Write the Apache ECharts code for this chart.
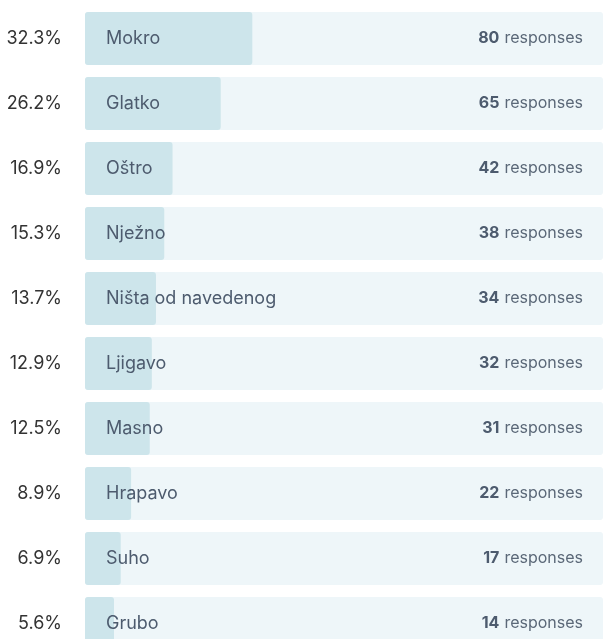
<!DOCTYPE html>
<html lang="hr">
<head>
<meta charset="utf-8">
<script src="https://cdn.jsdelivr.net/npm/echarts@6/dist/echarts.min.js"></script>
<style>
  html, body { margin: 0; padding: 0; background: #fff; }
  #chart { width: 604px; height: 639px; }
</style>
</head>
<body>
<div id="chart"></div>
<script type="text/javascript">
    var categories = ['Mokro', 'Glatko', 'Oštro', 'Nježno', 'Ništa od navedenog', 'Ljigavo', 'Masno', 'Hrapavo', 'Suho', 'Grubo'];
    var percents = [32.3, 26.2, 16.9, 15.3, 13.7, 12.9, 12.5, 8.9, 6.9, 5.6];
    var responses = [80, 65, 42, 38, 34, 32, 31, 22, 17, 14];
    var fullTrack = [100, 100, 100, 100, 100, 100, 100, 100, 100, 100];

    var font = 'Inter, "Noto Sans", sans-serif';

    var myChart = echarts.init(document.getElementById('chart'));

    var option = {
        animation: false,
        grid: {
            left: 85,
            right: 1,
            top: 6,
            height: 650,
            outerBoundsMode: 'none'
        },
        xAxis: {
            type: 'value',
            min: 0,
            max: 100,
            show: false
        },
        yAxis: {
            type: 'category',
            inverse: true,
            data: categories,
            axisLine: { show: false },
            axisTick: { show: false },
            axisLabel: {
                margin: 23,
                fontSize: 18,
                fontFamily: font,
                color: '#333',
                formatter: function (val, idx) {
                    return percents[idx].toFixed(1) + '%';
                }
            }
        },
        series: [{
            name: 'track',
            type: 'bar',
            barWidth: 53,
            barGap: '-100%',
            silent: true,
            data: fullTrack,
            itemStyle: { color: '#eef6f9', borderRadius: 3 },
            label: {
                show: true,
                position: 'insideRight',
                distance: 20,
                formatter: function (p) {
                    return '{n|' + responses[p.dataIndex] + '}{r|responses}';
                },
                rich: {
                    n: { fontSize: 16, fontWeight: 'bold', color: '#4d5b6e', fontFamily: font, padding: [0, 5, 0, 0] },
                    r: { fontSize: 16, color: '#5b6878', fontFamily: font }
                }
            }
        }, {
            name: 'percent',
            type: 'bar',
            barWidth: 53,
            data: percents,
            itemStyle: { color: '#cde5eb', borderRadius: 3 },
            label: {
                show: true,
                position: 'insideLeft',
                distance: 21,
                fontSize: 18,
                fontFamily: font,
                color: '#4d5b6e',
                formatter: function (p) {
                    return p.name;
                }
            }
        }]
    };

    myChart.setOption(option);
</script>
</body>
</html>
